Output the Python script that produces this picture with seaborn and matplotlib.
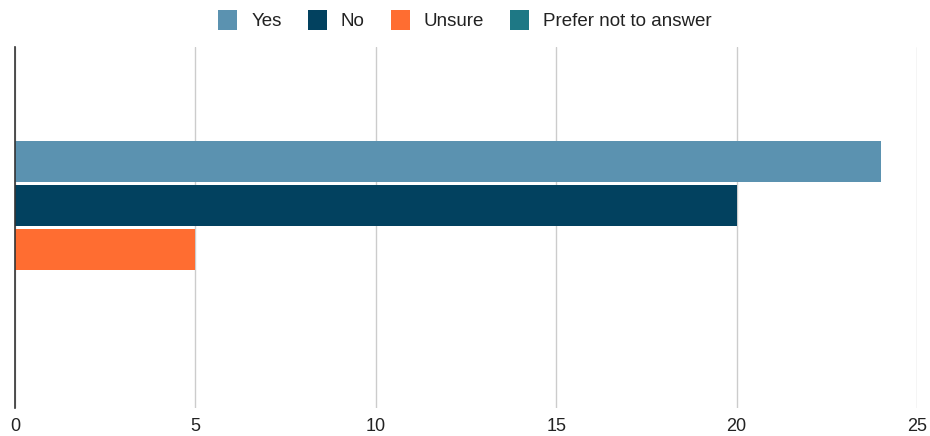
import matplotlib
matplotlib.use("Agg")
import matplotlib.pyplot as plt
import seaborn as sns
import pandas as pd

# Survey responses for a single question
answers = ["Yes", "No", "Unsure", "Prefer not to answer"]
counts = [24, 20, 5, 0]
colors = ["#5b92b0", "#02415f", "#ff6d31", "#1e7885"]
x_ticks = [0, 5, 10, 15, 20, 25]

df = pd.DataFrame({"question": [""] * len(answers), "answer": answers, "count": counts})

sns.set_theme(style="white")
plt.rcParams["font.family"] = ["Liberation Sans", "DejaVu Sans"]

fig = plt.figure(figsize=(9.30, 4.36), dpi=100)
ax = fig.add_axes([15 / 930, 28 / 436, (917 - 15) / 930, (408 - 47) / 436])

sns.barplot(data=df, x="count", y="question", hue="answer", hue_order=answers,
            palette=colors, orient="h", width=0.485, gap=0.06, ax=ax,
            saturation=1, legend=True, linewidth=0)

ax.set_xlim(0, 25)
ax.set_ylim(0.5, -0.5)
ax.set_xticks(x_ticks)
ax.set_xticklabels([str(t) for t in x_ticks], fontsize=13, color="#222222")
ax.tick_params(axis="x", length=0, pad=7)
ax.set_yticks([])
ax.set_xlabel("")
ax.set_ylabel("")
ax.grid(axis="x", color="#cccccc", linewidth=1)
ax.set_axisbelow(True)
for side in ["top", "right", "bottom"]:
    ax.spines[side].set_visible(False)
ax.spines["left"].set_color("#333333")
ax.spines["left"].set_linewidth(1.2)
ax.spines["left"].set_zorder(5)

handles, labels = ax.get_legend_handles_labels()
ax.get_legend().remove()
fig.legend(handles, labels, loc="center", bbox_to_anchor=(0.5, 1 - 20 / 436),
           ncol=4, frameon=False, fontsize=13.5, handlelength=1.0, handleheight=1.3,
           handletextpad=0.75, columnspacing=1.4, labelcolor="#222222")

fig.savefig("out.png", dpi=100, facecolor="white")
